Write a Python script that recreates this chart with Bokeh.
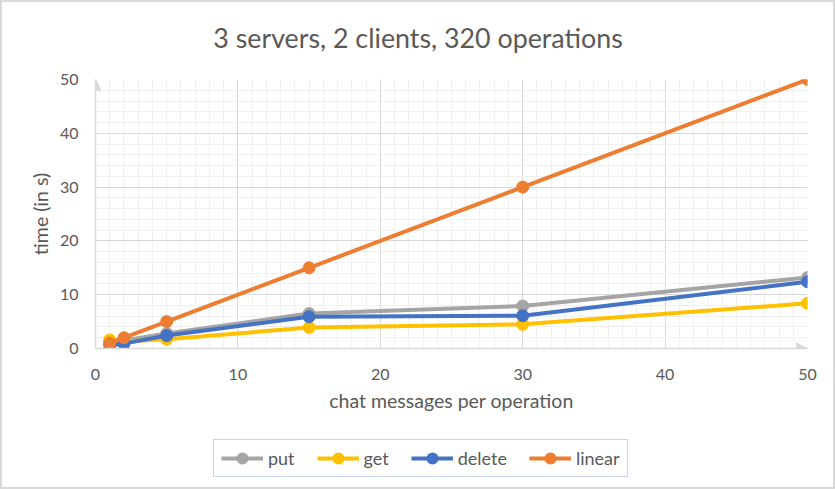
from bokeh.plotting import figure
from bokeh.layouts import column
from bokeh.models import (Range1d, SingleIntervalTicker, Legend, LegendItem, Arrow,
                          NormalHead, InlineStyleSheet, Label)
from bokeh.embed import file_html
from bokeh.resources import INLINE

x_msgs = [1, 2, 5, 15, 30, 50]
put = [1.3, 1.5, 2.8, 6.5, 7.9, 13.2]
get = [1.6, 1.3, 1.7, 3.9, 4.5, 8.4]
delete = [0.6, 0.9, 2.4, 5.9, 6.1, 12.4]
linear = [1, 2, 5, 15, 30, 50]

series = [("put", put, "#a5a5a5"), ("get", get, "#ffc000"),
          ("delete", delete, "#4472c4"), ("linear", linear, "#ed7d31")]

TITLE = "3 servers, 2 clients, 320 operations"
FONT = "Lato"
TXT = "#595959"
GRID = "#d9d9d9"


def strip(height, xr, yr):
    f = figure(width=835, height=height, output_backend="svg", toolbar_location=None,
               x_range=xr, y_range=yr, x_axis_location=None, y_axis_location=None,
               min_border=0, min_border_left=0, min_border_right=0,
               min_border_top=0, min_border_bottom=0)
    f.outline_line_color = None
    f.grid.visible = False
    f.border_fill_color = "white"
    f.background_fill_color = "white"
    return f


# title strip (frame is aligned with the chart's frame: 712 px wide)
t = strip(60, Range1d(0, 712), Range1d(0, 60))
t.add_layout(Label(x=322.5, y=23, text=TITLE, text_align="center", text_baseline="middle",
                   text_font=FONT, text_font_size="26.8px", text_color=TXT))

p = figure(width=835, height=372, output_backend="svg", toolbar_location=None,
           x_range=Range1d(0, 50), y_range=Range1d(0, 50),
           min_border_left=95, min_border_right=28, min_border_top=19, min_border_bottom=84)
p.outline_line_color = None
p.background_fill_color = "white"
p.border_fill_color = "white"

p.xaxis.ticker = SingleIntervalTicker(interval=10, num_minor_ticks=10)
p.yaxis.ticker = SingleIntervalTicker(interval=10, num_minor_ticks=5)
for ax in (p.xaxis[0], p.yaxis[0]):
    ax.axis_line_color = GRID
    ax.axis_line_width = 1.5
    ax.major_tick_line_color = None
    ax.minor_tick_line_color = None
    ax.major_label_text_font = FONT
    ax.major_label_text_font_size = "16px"
    ax.major_label_text_color = TXT
    ax.axis_label_text_font = FONT
    ax.axis_label_text_font_size = "19.5px"
    ax.axis_label_text_font_style = "normal"
    ax.axis_label_text_color = TXT
p.xaxis.axis_label = "chat messages per operation"
p.yaxis.axis_label = "time (in s)"
p.xaxis.major_label_standoff = 14
p.yaxis.major_label_standoff = 11
p.xaxis.axis_label_standoff = 6
p.yaxis.axis_label_standoff = 5

p.xgrid.grid_line_color = GRID
p.ygrid.grid_line_color = GRID
p.xgrid.minor_grid_line_color = "#f0f0f0"
p.ygrid.minor_grid_line_color = "#f0f0f0"

p.add_layout(Arrow(end=NormalHead(size=11, fill_color=GRID, line_color=GRID),
                   line_color=None, x_start=0, y_start=0, x_end=0, y_end=50))
p.add_layout(Arrow(end=NormalHead(size=11, fill_color=GRID, line_color=GRID),
                   line_color=None, x_start=0, y_start=0, x_end=50, y_end=0))

for name, vals, col in series:
    p.line(x_msgs, vals, line_color=col, line_width=4)
    p.scatter(x_msgs, vals, size=12, fill_color=col, line_color=col)

# legend strip below the chart (its data lies outside its ranges, only the legend shows)
q = strip(57, Range1d(-2, -1), Range1d(-2, -1))
items = []
for name, vals, col in series:
    r1 = q.line(x_msgs, vals, line_color=col, line_width=4)
    # a single round dot in the middle of the legend swatch
    r2 = q.line(x_msgs, vals, line_color=col, line_width=12, line_cap="round",
                line_dash="0 200", line_dash_offset=-21)
    items.append(LegendItem(label=name, renderers=[r1, r2]))
leg = Legend(items=items, orientation="horizontal", location=(118, 12),
             border_line_color="#8faadc", border_line_width=1,
             label_text_font=FONT, label_text_font_size="18px", label_text_color=TXT,
             glyph_width=42, glyph_height=16, spacing=22, padding=7, margin=0,
             label_standoff=5, background_fill_alpha=1)
q.add_layout(leg, "center")

border_css = InlineStyleSheet(css="""
:host { position: relative; }
:host::after { content: ""; position: absolute; left: 0; top: 0; right: 0; bottom: 0;
  border: 2px solid #d9d9d9; pointer-events: none; z-index: 1000; }
""")
layout = column(t, p, q, spacing=0, stylesheets=[border_css])

open("out.html", "w").write(file_html(layout, INLINE))
